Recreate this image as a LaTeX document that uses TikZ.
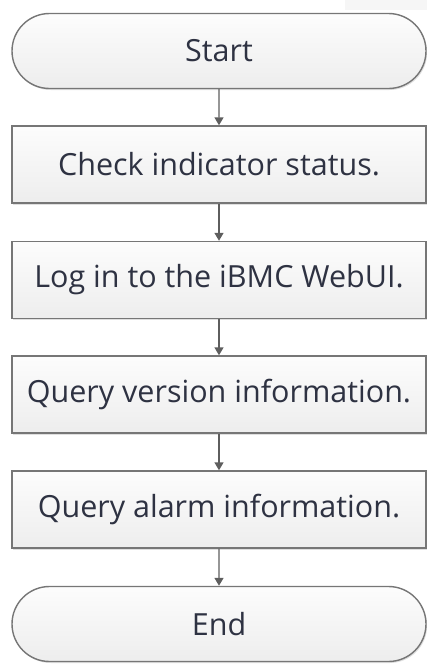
\documentclass[tikz,border=0pt]{standalone}
\usepackage{fontspec}
\setmainfont{Open Sans}
\usetikzlibrary{shapes.misc,shadows,arrows.meta}
\definecolor{edgegray}{HTML}{767676}
\definecolor{txt}{HTML}{2E3242}
\definecolor{linegray}{HTML}{5E5E5E}
\begin{document}
\begin{tikzpicture}[x=1pt,y=-1pt,
  base/.style={draw=edgegray, line width=1.4pt, top color=white!98!gray, bottom color=gray!14,
    minimum width=414pt, text=txt, font=\fontsize{30.5}{34}\selectfont, inner sep=0pt,
    drop shadow={shadow xshift=1.2pt, shadow yshift=-1.5pt, opacity=0.25, fill=gray}},
  stepbox/.style={base, rectangle, minimum height=77pt},
  term/.style={base, rounded rectangle, minimum height=75pt},
  flow/.style={draw=linegray, line width=1.4pt, -{Triangle[width=9pt,length=8pt]}}]
\useasboundingbox (0,0) rectangle (427,664);
\fill[gray!7] (345,0) rectangle (427,10);
\node[term] (start) at (219,51) {Start};
\node[stepbox] (s1) at (219,164.5) {Check indicator status.};
\node[stepbox] (s2) at (219,280) {Log in to the iBMC WebUI.};
\node[stepbox] (s3) at (219,394.5) {Query version information.};
\node[stepbox] (s4) at (219,509.5) {Query alarm information.};
\node[term] (end) at (219,624) {End};
\draw[flow] (start) -- (s1);
\draw[flow] (s1) -- (s2);
\draw[flow] (s2) -- (s3);
\draw[flow] (s3) -- (s4);
\draw[flow] (s4) -- (end);
\end{tikzpicture}
\end{document}
